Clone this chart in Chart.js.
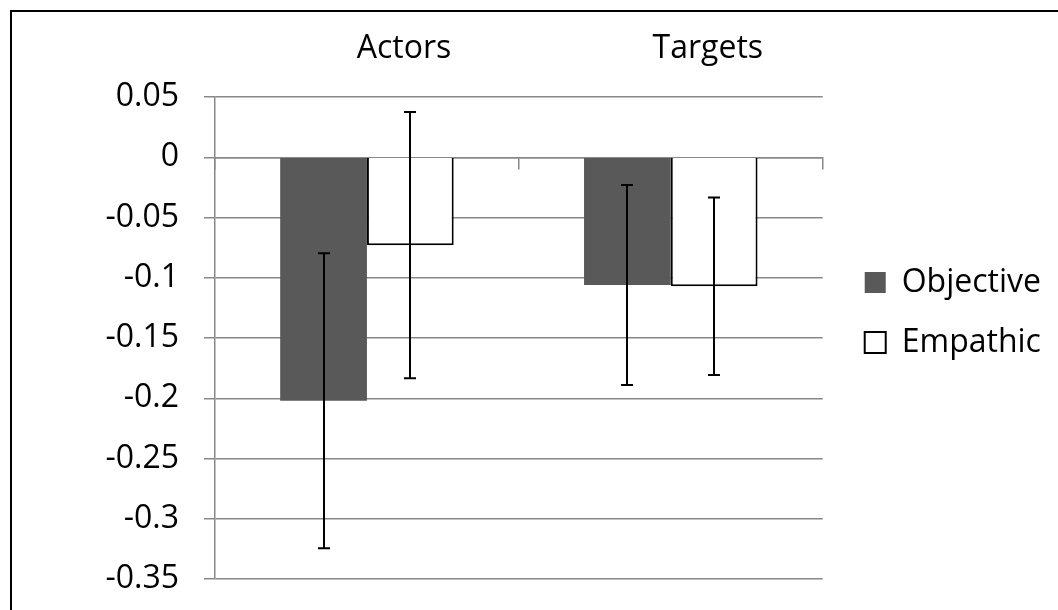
<!DOCTYPE html>
<html>
<head>
<meta charset="utf-8">
<script src="https://cdn.jsdelivr.net/npm/chart.js@4"></script>
<style>
  html, body { margin: 0; padding: 0; background: #fff; overflow: hidden; }
  #frame { position: absolute; left: 10px; top: 10px; width: 1200px; height: 800px; border: 2px solid #000; }
  #wrap { position: absolute; left: 0; top: 0; width: 1058px; height: 610px; }
</style>
</head>
<body>
<div id="frame"></div>
<div id="wrap"><canvas id="chart" width="1058" height="610"></canvas></div>
<script>
const categories = ['Actors', 'Targets'];
const objective = [-0.202, -0.106];
const empathic = [-0.073, -0.107];
const objectiveErr = [0.1224, 0.083];
const empathicErr = [0.1105, 0.0737];
const yTickValues = [0.05, 0, -0.05, -0.1, -0.15, -0.2, -0.25, -0.3, -0.35];
const yTickLabels = ['0.05', '0', '-0.05', '-0.1', '-0.15', '-0.2', '-0.25', '-0.3', '-0.35'];

const font = { family: "'Open Sans'", size: 32 };
const gridGray = '#888888';

// error bars drawn on top of each bar
const errorBars = {
  id: 'errorBars',
  afterDatasetsDraw(chart) {
    const ctx = chart.ctx;
    const y = chart.scales.y;
    ctx.save();
    ctx.strokeStyle = '#000';
    ctx.lineWidth = 2;
    chart.data.datasets.forEach((ds, di) => {
      const meta = chart.getDatasetMeta(di);
      meta.data.forEach((bar, i) => {
        const v = ds.data[i];
        const e = ds.errors[i];
        const top = y.getPixelForValue(v + e);
        const bot = y.getPixelForValue(v - e);
        const x = Math.round(bar.x);
        ctx.beginPath();
        ctx.moveTo(x, top); ctx.lineTo(x, bot);
        ctx.moveTo(x - 6, top); ctx.lineTo(x + 6, top);
        ctx.moveTo(x - 6, bot); ctx.lineTo(x + 6, bot);
        ctx.stroke();
      });
    });
    ctx.restore();
  }
};

new Chart(document.getElementById('chart'), {
  type: 'bar',
  data: {
    labels: categories,
    datasets: [
      {
        label: 'Objective',
        data: objective,
        errors: objectiveErr,
        backgroundColor: '#595959',
        borderWidth: 0
      },
      {
        label: 'Empathic',
        data: empathic,
        errors: empathicErr,
        backgroundColor: '#ffffff',
        borderColor: '#000000',
        borderWidth: 2
      }
    ]
  },
  options: {
    responsive: false,
    animation: false,
    events: [],
    layout: { padding: { top: 0, bottom: 31, left: 0, right: 7 } },
    datasets: { bar: { categoryPercentage: 0.571, barPercentage: 1 } },
    scales: {
      x: {
        type: 'category',
        position: { y: 0 },
        z: 1,
        offset: true,
        grid: { drawOnChartArea: false, offset: true, tickLength: 11, color: gridGray, lineWidth: 1.5 },
        border: { color: gridGray, width: 1.5 },
        ticks: { display: false }
      },
      x2: {
        type: 'category',
        position: 'top',
        labels: categories,
        offset: true,
        grid: { display: false, drawTicks: false },
        border: { display: false },
        ticks: { font: font, color: '#000', padding: 29, labelOffset: 37 },
        afterFit(s) { s.height = 97; }
      },
      y: {
        min: -0.35,
        max: 0.05,
        ticks: {
          stepSize: 0.05,
          font: font,
          color: '#000',
          padding: 25,
          callback(v) {
            const i = yTickValues.findIndex(t => Math.abs(t - v) < 1e-9);
            return i >= 0 ? yTickLabels[i] : '';
          }
        },
        grid: { color: gridGray, lineWidth: 1.5, tickLength: 11 },
        border: { color: gridGray, width: 1.5 },
        afterFit(s) { s.width = 215; s.paddingTop = 0; s.paddingBottom = 0; }
      },
      // hidden spacer between plot and legend
      yRight: {
        type: 'linear',
        position: 'right',
        display: false,
        afterFit(s) { s.width = 14; }
      }
    },
    plugins: {
      legend: {
        position: 'right',
        title: { display: true, text: '', font: { size: 12 }, padding: { top: 0, bottom: 31.6 } },
        labels: { font: font, color: '#000', boxWidth: 21, boxHeight: 21, padding: 28 }
      },
      tooltip: { enabled: false }
    }
  },
  plugins: [errorBars]
});
</script>
</body>
</html>
